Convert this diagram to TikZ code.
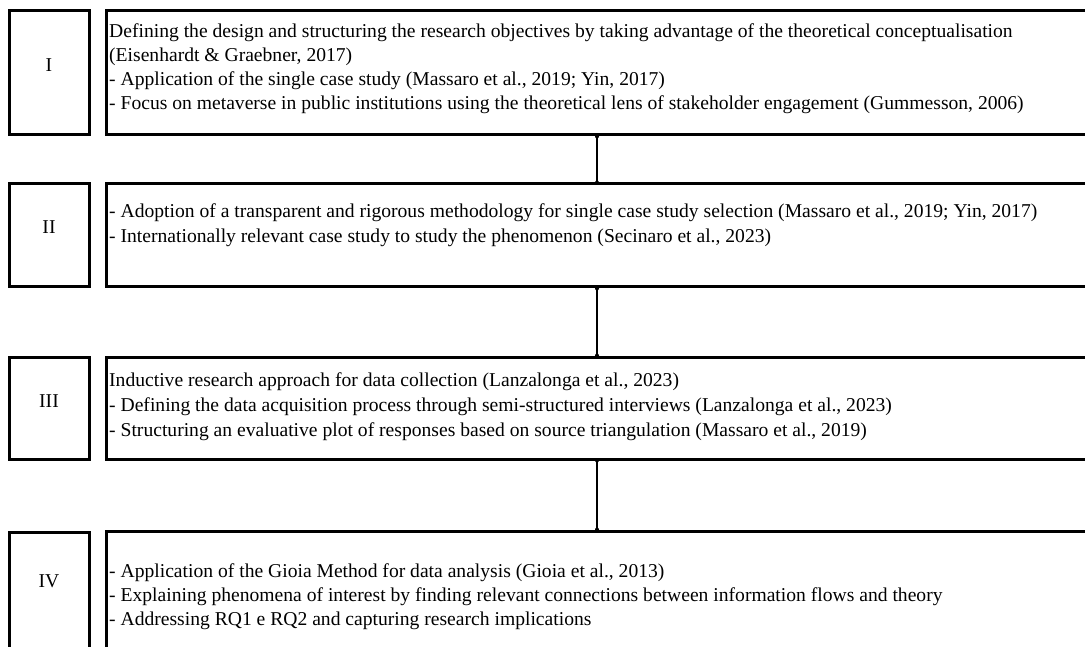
\documentclass[tikz,border=0pt]{standalone}
\usepackage{fontspec}
\setmainfont{Liberation Serif}
\begin{document}
\begin{tikzpicture}[x=1pt,y=-1pt,
  numbox/.style={draw,line width=3pt,minimum width=80pt,inner sep=0pt},
  bigbox/.style={draw,line width=3pt,minimum width=990pt,inner sep=0pt},
  numlbl/.style={font=\fontsize{19.6}{24}\selectfont,inner sep=0pt},
  txt/.style={font=\fontsize{19.6}{24}\selectfont,inner sep=0pt,anchor=base west},
  conn/.style={line width=1.8pt},
  enddot/.style={fill,circle,inner sep=0pt,minimum size=4pt}]
\clip (0,0) rectangle (1085,647);
\fill[white] (0,0) rectangle (1085,647);
% number boxes
\node[numbox,minimum height=124pt] (n1) at (49,73) {};
\node[numbox,minimum height=103pt] (n2) at (49,235.5) {};
\node[numbox,minimum height=102pt] (n3) at (49,408) {};
\node[numbox,minimum height=140pt] (n4) at (49,602) {};
\node[numlbl] (l1) at (49,65) {I};
\node[numlbl] (l2) at (49,227) {II};
\node[numlbl] (l3) at (49,401) {III};
\node[numlbl] (l4) at (49,581) {IV};
% big boxes
\node[bigbox,minimum height=124pt] (b1) at (601,73) {};
\node[bigbox,minimum height=103pt] (b2) at (601,235.5) {};
\node[bigbox,minimum height=102pt] (b3) at (601,408) {};
\node[bigbox,minimum height=140pt] (b4) at (601,601) {};
% texts
\node[txt] (t1a) at (109,38) {Defining the design and structuring the research objectives by taking advantage of the theoretical conceptualisation};
\node[txt] (t1b) at (109,62) {(Eisenhardt \& Graebner, 2017)};
\node[txt] (t1c) at (109,86) {- Application of the single case study (Massaro et al., 2019; Yin, 2017)};
\node[txt] (t1d) at (109,110) {- Focus on metaverse in public institutions using the theoretical lens of stakeholder engagement (Gummesson, 2006)};
\node[txt] (t2a) at (109,218) {- Adoption of a transparent and rigorous methodology for single case study selection (Massaro et al., 2019; Yin, 2017)};
\node[txt] (t2b) at (109,243) {- Internationally relevant case study to study the phenomenon (Secinaro et al., 2023)};
\node[txt] (t3a) at (109,386) {Inductive research approach for data collection (Lanzalonga et al., 2023)};
\node[txt] (t3b) at (109,411) {- Defining the data acquisition process through semi-structured interviews (Lanzalonga et al., 2023)};
\node[txt] (t3c) at (109,436) {- Structuring an evaluative plot of responses based on source triangulation (Massaro et al., 2019)};
\node[txt] (t4a) at (109,577) {- Application of the Gioia Method for data analysis (Gioia et al., 2013)};
\node[txt] (t4b) at (109,601) {- Explaining phenomena of interest by finding relevant connections between information flows and theory};
\node[txt] (t4c) at (109,625) {- Addressing RQ1 e RQ2 and capturing research implications};
% connectors
\coordinate (cx) at (597,0);
\draw[conn] (b1.south -| cx) node[enddot]{} -- (b2.north -| cx) node[enddot]{};
\draw[conn] (b2.south -| cx) node[enddot]{} -- (b3.north -| cx) node[enddot]{};
\draw[conn] (b3.south -| cx) node[enddot]{} -- (b4.north -| cx) node[enddot]{};
\end{tikzpicture}
\end{document}
